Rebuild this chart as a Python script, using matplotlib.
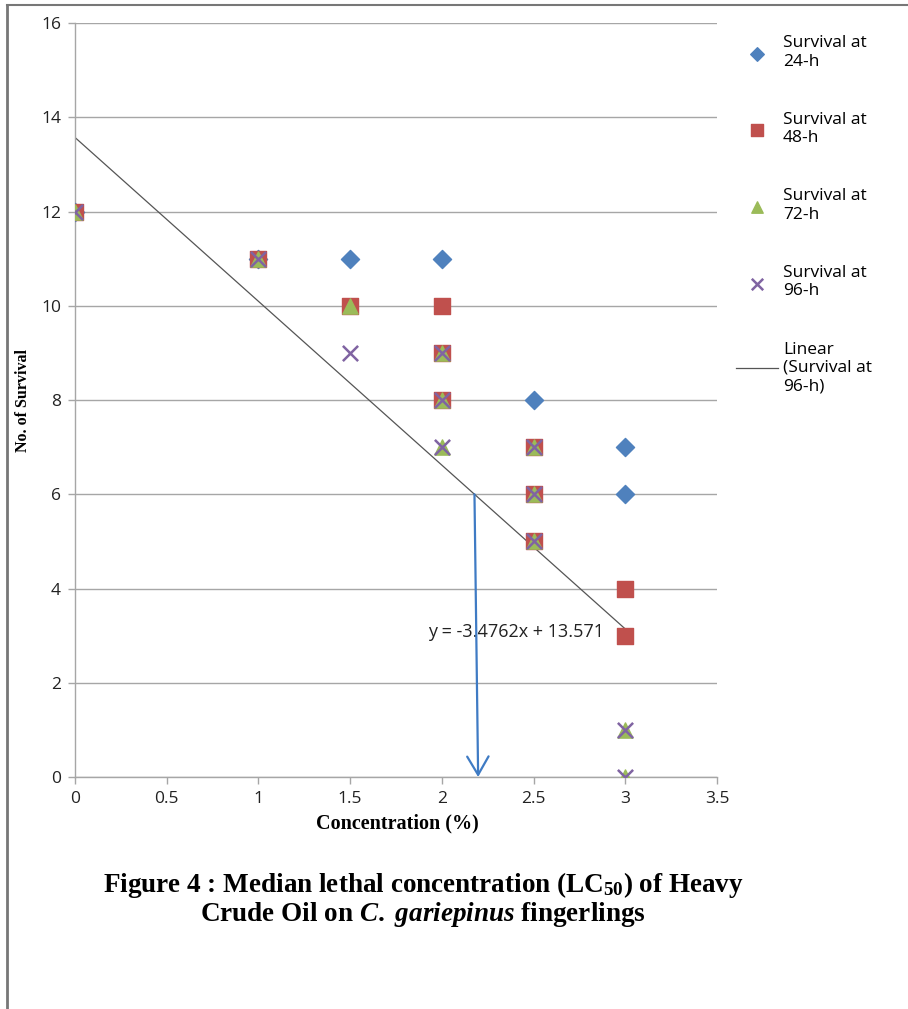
import numpy as np
import matplotlib.pyplot as plt
from matplotlib.lines import Line2D

plt.rcParams['mathtext.fontset'] = 'custom'
plt.rcParams['mathtext.rm'] = 'Liberation Serif:bold'
plt.rcParams['mathtext.it'] = 'Liberation Serif:italic:bold'
plt.rcParams['mathtext.bf'] = 'Liberation Serif:bold'

# survival counts (replicates share the same concentration)
conc_24 = [0, 1, 1.5, 2, 2.5, 3, 3]
surv_24 = [12, 11, 11, 11, 8, 7, 6]

conc_48 = [0, 1, 1.5, 2, 2, 2, 2.5, 2.5, 2.5, 3, 3]
surv_48 = [12, 11, 10, 10, 9, 8, 7, 6, 5, 4, 3]

conc_72 = [0, 1, 1.5, 2, 2, 2, 2.5, 2.5, 2.5, 3, 3]
surv_72 = [12, 11, 10, 9, 8, 7, 7, 6, 5, 1, 0]

conc_96 = [0, 1, 1.5, 2, 2, 2, 2.5, 2.5, 2.5, 3, 3]
surv_96 = [12, 11, 9, 9, 8, 7, 7, 6, 5, 1, 0]

# trendline printed on the chart
slope = -3.4762
intercept = 13.571
lc50_survival = 6

fig = plt.figure(figsize=(9.08, 10.09), dpi=100)
ax = fig.add_axes([0.0826, 0.2299, 0.707, 0.7473])

ax.scatter(conc_24, surv_24, marker='D', s=85, color='#4F81BD', zorder=3,
           label='Survival at\n24-h')
ax.scatter(conc_48, surv_48, marker='s', s=120, color='#C0504D', zorder=4,
           label='Survival at\n48-h')
ax.scatter(conc_72, surv_72, marker='^', s=120, color='#9BBB59', zorder=5,
           label='Survival at\n72-h')
ax.scatter(conc_96, surv_96, marker='x', s=120, color='#8064A2', linewidths=1.8,
           zorder=6, label='Survival at\n96-h')

xt = np.array([min(conc_96), max(conc_96)])
ax.plot(xt, slope * xt + intercept, color='#555555', lw=0.9, zorder=2)

x_lc = (lc50_survival - intercept) / slope
ax.annotate('', xy=(x_lc + 0.02, 0), xytext=(x_lc, lc50_survival),
            arrowprops=dict(arrowstyle='->,head_length=0.6,head_width=0.35',
                            color='#3F7BC4', lw=1.6, mutation_scale=22,
                            shrinkA=0, shrinkB=0),
            zorder=7)
ax.text(2.405, 3.08, 'y = -3.4762x + 13.571', ha='center', va='center',
        fontsize=13, family='Open Sans', color='#222222', zorder=1)

ax.set_xlim(0, 3.5)
ax.set_ylim(0, 16)
ax.set_xticks(np.arange(0, 3.51, 0.5))
ax.set_xticklabels(['0', '0.5', '1', '1.5', '2', '2.5', '3', '3.5'])
ax.set_yticks(range(0, 17, 2))
ax.grid(axis='y', color='#A6A6A6', lw=1)
ax.set_axisbelow(True)
for s in ['top', 'right']:
    ax.spines[s].set_visible(False)
for s in ['left', 'bottom']:
    ax.spines[s].set_color('#A6A6A6')
    ax.spines[s].set_linewidth(1)
ax.tick_params(colors='#A6A6A6', labelcolor='#222222', length=5, width=1,
               labelsize=12.5, pad=5)
for lbl in ax.get_xticklabels() + ax.get_yticklabels():
    lbl.set_family('Open Sans')

ax.set_xlabel('Concentration (%)', family='Liberation Serif', fontweight='bold',
              fontsize=14.5)
ax.xaxis.set_label_coords(0.502, -0.048)
ax.set_ylabel('No. of Survival', family='Liberation Serif', fontweight='bold',
              fontsize=11.5)
ax.yaxis.set_label_coords(-0.069, 0.5)

handles, labels = ax.get_legend_handles_labels()
handles.append(Line2D([0], [0], color='#555555', lw=0.9))
labels.append('Linear\n(Survival at\n96-h)')
leg = ax.legend(handles, labels, loc='upper left', bbox_to_anchor=(1.011, 1.0),
                frameon=False, prop={'family': 'Open Sans', 'size': 12.5},
                labelspacing=2.43, handlelength=2.4, handletextpad=0.3,
                markerscale=0.75, borderaxespad=0.3)

fig.text(0.466, 0.1225, 'Figure 4 : Median lethal concentration (LC$_{50}$) of Heavy',
         ha='center', va='center', family='Liberation Serif', fontweight='bold',
         fontsize=19.5)
fig.text(0.466, 0.0935, r'Crude Oil on $\it{C.}$ $\it{gariepinus}$ fingerlings',
         ha='center', va='center', family='Liberation Serif', fontweight='bold',
         fontsize=19.5)

# page frame from the source document
fig.add_artist(Line2D([0.008, 0.008], [0, 0.995], color='#777777', lw=2,
                      transform=fig.transFigure))
fig.add_artist(Line2D([0.008, 1], [0.995, 0.995], color='#777777', lw=1.5,
                      transform=fig.transFigure))

fig.savefig('out.png', dpi=100)
